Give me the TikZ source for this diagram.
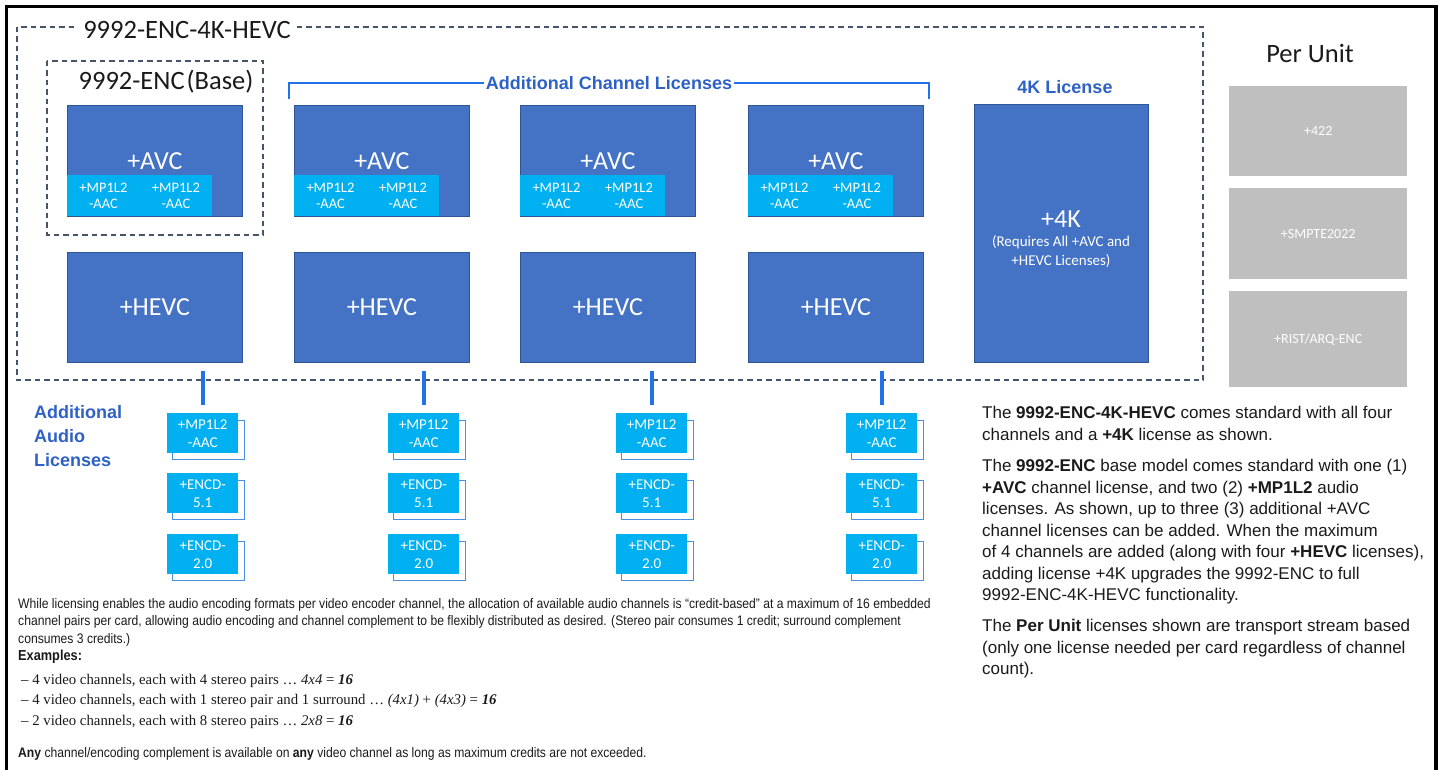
\documentclass[tikz,border=0pt]{standalone}
\usepackage{fontspec}
\setmainfont{Liberation Sans}
\newfontfamily\calfont{Carlito}
\newfontfamily\narrowfont{Liberation Sans}[FakeStretch=0.88]
\newfontfamily\serffont{Liberation Serif}
\definecolor{boxblue}{HTML}{4472C4}
\definecolor{boxedge}{HTML}{2F5597}
\definecolor{cyanbox}{HTML}{00B0F0}
\definecolor{titleblue}{HTML}{2E61C6}
\definecolor{connblue}{HTML}{2171E8}
\definecolor{shadowblue}{HTML}{4A8FE0}
\definecolor{dashgray}{HTML}{44546A}
\definecolor{graybox}{HTML}{BFBFBF}
\definecolor{txt}{HTML}{1A1A1A}
\begin{document}
\begin{tikzpicture}[x=1pt,y=-1pt,
  dbox/.style={fill=boxblue,draw=boxedge,line width=0.8pt,inner sep=0pt,anchor=north west,text=white,font=\calfont\fontsize{26}{30}\selectfont},
  halfstrip/.style={fill=cyanbox,inner sep=0pt,anchor=north west,minimum width=72.5pt,minimum height=41pt,text=white,align=center,font=\calfont\fontsize{14.5}{16}\selectfont},
  abox/.style={fill=cyanbox,inner sep=0pt,anchor=north west,minimum width=71pt,minimum height=40pt,text=white,align=center,font=\calfont\fontsize{15}{18}\selectfont},
  shadowbox/.style={draw=shadowblue,fill=white,line width=0.9pt,inner sep=0pt,anchor=north west,minimum width=72pt,minimum height=39pt},
  gbox/.style={fill=graybox,inner sep=0pt,anchor=north west,minimum width=178pt,text=white,font=\calfont\fontsize{14}{16}\selectfont},
  dashbox/.style={draw=dashgray,line width=1.2pt,dash pattern=on 5.5pt off 4pt},
  conn/.style={draw=connblue,line width=4pt},
  brk/.style={draw=connblue,line width=2pt},
  bluetitle/.style={text=titleblue,font=\bfseries\fontsize{18}{21}\selectfont,inner sep=2pt},
  bigtitle/.style={text=txt,font=\calfont\fontsize{26.5}{30}\selectfont,inner sep=0pt},
  rtext/.style={text=txt,font=\fontsize{17}{21.5}\selectfont,align=left,anchor=north west,inner sep=0pt},
  btext/.style={text=txt,font=\narrowfont\fontsize{13.8}{17.5}\selectfont,align=left,anchor=north west,inner sep=0pt},
  extext/.style={text=txt,font=\serffont\fontsize{14.8}{20.5}\selectfont,align=left,anchor=north west,inner sep=0pt}
]
\useasboundingbox (0,0) rectangle (1440,770);
% outer frame
\draw[line width=3.5pt] (6.5,790) -- (6.5,6.5) -- (1436,6.5) -- (1436,790);

% outer dashed container
\draw[dashbox] (17,27) rectangle (1203,380);
\node[bigtitle,fill=white,inner xsep=5pt,inner ysep=2pt] (ttl) at (187,30) {9992-ENC-4K-HEVC};
% base dashed container
\draw[dashbox] (47,61) rectangle (263,235);
\node[bigtitle] (basettl) at (166,82) {9992-ENC\hspace{2pt}(Base)};

% channel license bracket
\node[bluetitle] (chl) at (609,83) {Additional Channel Licenses};
\draw[brk] (289,99) |- (chl.west);
\draw[brk] (chl.east) -| (929,99);

% AVC and HEVC boxes
\foreach \x/\n in {67/1,294/2,520/3,748/4}{
  \node[dbox,minimum width=175pt,minimum height=111pt] (avc\n) at (\x,105) {+AVC};
  \node[halfstrip] (sa\n) at (\x,175) {+MP1L2\\-AAC};
  \node[halfstrip] (sb\n) at ({\x+72.5},175) {+MP1L2\\-AAC};
  \node[dbox,minimum width=175pt,minimum height=110pt] (hevc\n) at (\x,252) {+HEVC};
}

% 4K license
\node[bluetitle] (k4ttl) at (1065,87) {4K License};
\node[dbox,minimum width=174pt,minimum height=258pt] (k4) at (974,104) {};
\node[text=white,font=\calfont\fontsize{26}{30}\selectfont,inner sep=0pt] (k4a) at (1061,219) {+4K};
\node[text=white,font=\calfont\fontsize{15}{19}\selectfont,align=center,inner sep=0pt] (k4b) at (1061,251.5) {(Requires All +AVC and\\+HEVC Licenses)};

% per unit
\node[bigtitle] (pu) at (1310,53) {Per Unit};
\node[gbox,minimum height=90pt] (g1) at (1229,86) {+422};
\node[gbox,minimum height=91pt] (g2) at (1229,188) {+SMPTE2022};
\node[gbox,minimum height=96pt] (g3) at (1229,291) {+RIST/ARQ-ENC};

% additional audio licenses
\node[text=titleblue,font=\bfseries\fontsize{18}{24}\selectfont,align=left,anchor=north west,inner sep=0pt] (aal) at (34,405) {Additional\\Audio\\Licenses};

\foreach \ax/\n in {167/1,388/2,616/3,846/4}{
  \foreach \ay/\m/\t in {413/a/{+MP1L2\\-AAC},473/b/{+ENCD-\\5.1},534/c/{+ENCD-\\2.0}}{
    \node[shadowbox] (sh\n\m) at ({\ax+4.5},{\ay+6.5}) {};
    \node[abox] (aud\n\m) at (\ax,\ay) {\t};
  }
  \draw[conn,shorten <=8pt,shorten >=8pt] (aud\n a.north |- hevc\n.south) -- (aud\n a.north);
}

% right text
\node[rtext] (p1) at (982,406) {The \textbf{9992-ENC-4K-HEVC} comes standard with all four\\channels and a \textbf{+4K} license as shown.};
\node[rtext] (p2) at (982,459) {The \textbf{9992-ENC} base model comes standard with one (1)\\\textbf{+AVC} channel license, and two (2) \textbf{+MP1L2} audio\\licenses. As shown, up to three (3) additional +AVC\\channel licenses can be added. When the maximum\\of 4 channels are added (along with four \textbf{+HEVC} licenses),\\adding license +4K upgrades the 9992-ENC to full\\9992-ENC-4K-HEVC functionality.};
\node[rtext] (p3) at (982,619) {The \textbf{Per Unit} licenses shown are transport stream based\\(only one license needed per card regardless of channel\\count).};

% bottom text
\node[btext] (bt) at (18,598) {While licensing enables the audio encoding formats per video encoder channel, the allocation of available audio channels is “credit-based” at a maximum of 16 embedded\\channel pairs per card, allowing audio encoding and channel complement to be flexibly distributed as desired. (Stereo pair consumes 1 credit; surround complement\\consumes 3 credits.)};
\node[text=txt,font=\narrowfont\bfseries\fontsize{14.5}{17}\selectfont,anchor=west,inner sep=0pt] (exh) at (18,657) {Examples:};
\node[extext] (ex) at (21,674) {– 4 video channels, each with 4 stereo pairs … \textit{4x4} = \textbf{\textit{16}}\\– 4 video channels, each with 1 stereo pair and 1 surround … \textit{(4x1)} + \textit{(4x3)} = \textbf{\textit{16}}\\– 2 video channels, each with 8 stereo pairs … \textit{2x8} = \textbf{\textit{16}}};
\node[text=txt,font=\narrowfont\fontsize{13.8}{17}\selectfont,anchor=west,inner sep=0pt] (anyl) at (18,754) {\textbf{Any} channel/encoding complement is available on \textbf{any} video channel as long as maximum credits are not exceeded.};
\end{tikzpicture}
\end{document}
